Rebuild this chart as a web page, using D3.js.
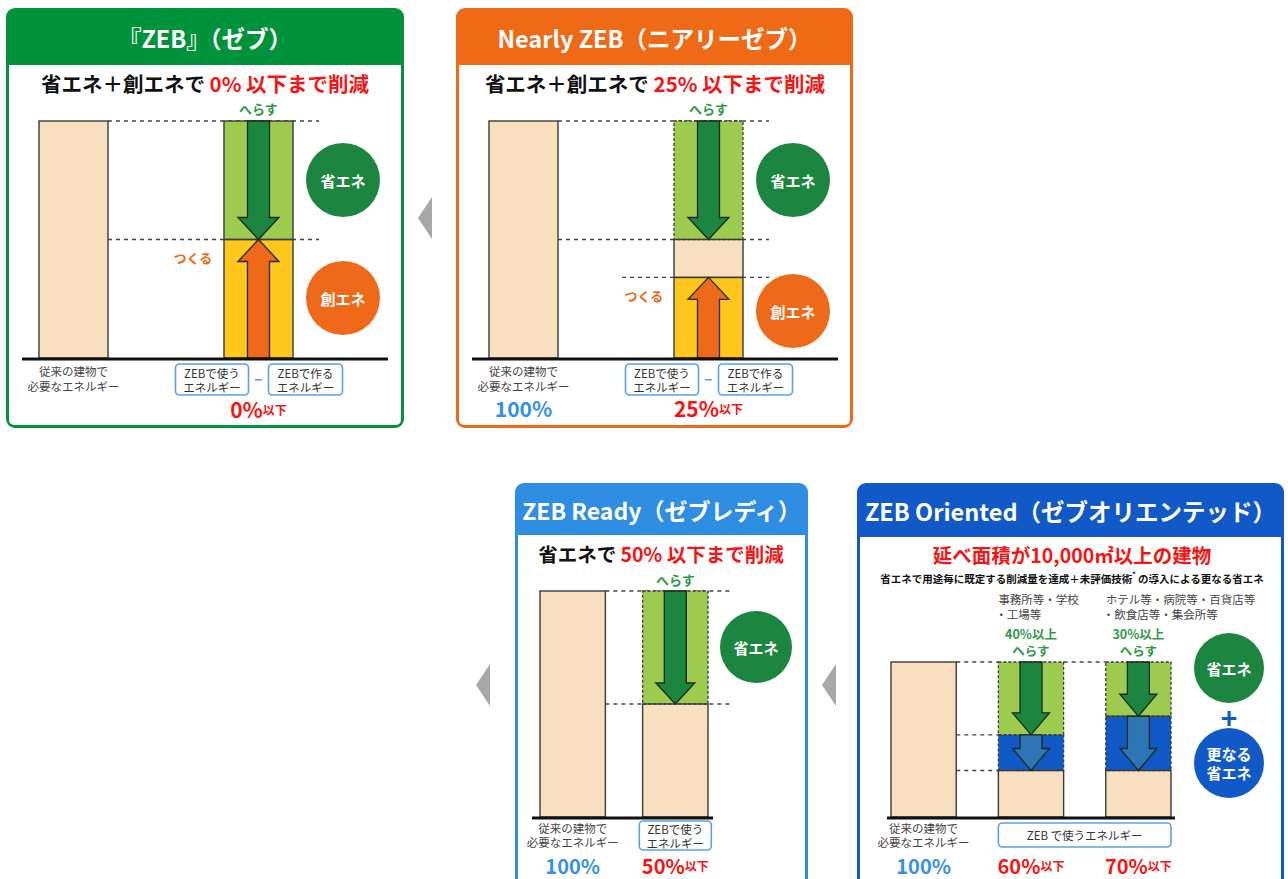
<!DOCTYPE html>
<html><head><meta charset="utf-8">
<script src="https://cdn.jsdelivr.net/npm/d3@7"></script>
<style>body{margin:0;background:#fff;}svg{display:block;font-family:"Noto Sans CJK JP","Noto Sans",sans-serif;}</style>
</head><body><svg id="c" width="1288" height="879"></svg>
<script>
// ---------------- DATA ----------------
const panelTitles = ["『ZEB』（ゼブ）", "Nearly ZEB（ニアリーゼブ）", "ZEB Ready（ゼブレディ）", "ZEB Oriented（ゼブオリエンテッド）"];
const subtitleLead = ["省エネ＋創エネで ", "省エネ＋創エネで ", "省エネで "];
const subtitleTarget = ["0% 以下まで削減", "25% 以下まで削減", "50% 以下まで削減"];
const targetLabels = ["0%", "25%", "50%", "60%", "70%"];
const baselineLabel = "100%";
const barsTwo = ["従来", "ZEB"];
const barsOriented = ["従来", "事務所等", "ホテル等"];
// segments: values in % of conventional building energy
const zebSegments = [
  {bar: "従来", kind: "base", from: 0, to: 100},
  {bar: "ZEB", kind: "save", from: 50, to: 100},
  {bar: "ZEB", kind: "create", from: 0, to: 50}
];
const nearlySegments = [
  {bar: "従来", kind: "base", from: 0, to: 100},
  {bar: "ZEB", kind: "save", from: 50, to: 100},
  {bar: "ZEB", kind: "base", from: 34, to: 50},
  {bar: "ZEB", kind: "create", from: 0, to: 34}
];
const readySegments = [
  {bar: "従来", kind: "base", from: 0, to: 100},
  {bar: "ZEB", kind: "save", from: 50, to: 100},
  {bar: "ZEB", kind: "base", from: 0, to: 50}
];
const orientedSegments = [
  {bar: "従来", kind: "base", from: 0, to: 100},
  {bar: "事務所等", kind: "save", from: 53, to: 100},
  {bar: "事務所等", kind: "further", from: 30, to: 53},
  {bar: "事務所等", kind: "base", from: 0, to: 30},
  {bar: "ホテル等", kind: "save", from: 65, to: 100},
  {bar: "ホテル等", kind: "further", from: 30, to: 65},
  {bar: "ホテル等", kind: "base", from: 0, to: 30}
];
const orientedCategoryLabels = [["事務所等・学校", "・工場等"], ["ホテル等・病院等・百貨店等", "・飲食店等・集会所等"]];
const orientedReduction = ["40%以上", "30%以上"];
const orientedSubtitle = "延べ面積が10,000㎡以上の建物";
const orientedNote = "省エネで用途毎に既定する削減量を達成＋未評価技術";
const orientedNote2 = "の導入による更なる省エネ";

// ---------------- STYLE ----------------
const C = {
  zeb: "#01923C", nearly: "#EE6A17", ready: "#2F8DE2", oriented: "#1159C6",
  wheat: "#F7DFC0", save: "#9CCB50", create: "#FFC61B", further: "#1159C6",
  gArrow: "#1C8540", oArrow: "#EE6A1A", bArrow: "#2E75B6",
  red: "#F51414", blue100: "#3590E6", gText: "#2E9A48", oText: "#EE6A1A",
  box: "#5AA2E6", label: "#444", edge: "#3a3a3a"
};
const svg = d3.select("#c");

function txt(g, x, y, s, size, fill, weight, anchor) {
  return g.append("text").attr("x", x).attr("y", y).attr("font-size", size)
    .attr("fill", fill).attr("font-weight", weight || "normal")
    .attr("text-anchor", anchor || "middle").attr("dominant-baseline", "central").text(s);
}

function panel(x, y, w, h, headH, color, title, tsize) {
  const g = svg.append("g");
  g.append("rect").attr("x", x).attr("y", y).attr("width", w).attr("height", h).attr("rx", 9).attr("fill", color);
  g.append("rect").attr("x", x + 3).attr("y", y + headH).attr("width", w - 6).attr("height", h - headH - 3).attr("rx", 5).attr("fill", "#fff");
  g.append("rect").attr("x", x + 3).attr("y", y + headH).attr("width", w - 6).attr("height", 10).attr("fill", "#fff");
  txt(g, x + w / 2, y + headH / 2 + 1, title, tsize, "#fff", "bold");
  return g;
}

function arrowDown(cx, y0, y1, sw, hw, hl) {
  const hy = y1 - hl;
  return `M${cx - sw / 2},${y0}L${cx + sw / 2},${y0}L${cx + sw / 2},${hy}L${cx + hw / 2},${hy}L${cx},${y1}L${cx - hw / 2},${hy}L${cx - sw / 2},${hy}Z`;
}
function arrowUp(cx, y0, y1, sw, hw, hl) {
  const hy = y1 + hl;
  return `M${cx - sw / 2},${y0}L${cx + sw / 2},${y0}L${cx + sw / 2},${hy}L${cx + hw / 2},${hy}L${cx},${y1}L${cx - hw / 2},${hy}L${cx - sw / 2},${hy}Z`;
}

const kindFill = {base: C.wheat, save: C.save, create: C.create, further: C.further};
const arrowFill = {save: C.gArrow, further: C.bArrow, create: C.oArrow};

function drawBars(g, segs, bars, xr, pad, yr, o) {
  const x = d3.scaleBand().domain(bars).range(xr).paddingInner(pad).paddingOuter(0);
  const y = d3.scaleLinear().domain([0, 100]).range(yr);
  const bw = x.bandwidth();
  (o.guides || []).forEach(gd => {
    g.append("line").attr("x1", gd.x0(x, bw)).attr("x2", gd.x1(x, bw))
      .attr("y1", y(gd.level)).attr("y2", y(gd.level))
      .attr("stroke", "#444").attr("stroke-width", 1.3).attr("stroke-dasharray", "4,4");
  });
  g.selectAll(null).data(segs).join("rect")
    .attr("x", d => x(d.bar)).attr("y", d => y(d.to))
    .attr("width", bw).attr("height", d => y(d.from) - y(d.to))
    .attr("fill", d => kindFill[d.kind]);
  const dashedKinds = o.solidSave ? [] : ["save", "further"];
  g.selectAll(null).data(segs.filter(d => dashedKinds.includes(d.kind))).join("rect")
    .attr("x", d => x(d.bar)).attr("y", d => y(d.to))
    .attr("width", bw).attr("height", d => y(d.from) - y(d.to))
    .attr("fill", "none").attr("stroke", C.edge).attr("stroke-width", 1.3).attr("stroke-dasharray", "3,2");
  g.selectAll(null).data(segs.filter(d => !dashedKinds.includes(d.kind))).join("rect")
    .attr("x", d => x(d.bar)).attr("y", d => y(d.to))
    .attr("width", bw).attr("height", d => y(d.from) - y(d.to))
    .attr("fill", "none").attr("stroke", C.edge).attr("stroke-width", 1.4);
  const A = o.arrow;
  g.selectAll(null).data(segs.filter(d => arrowFill[d.kind])).join("path")
    .attr("d", d => {
      const cx = x(d.bar) + bw / 2;
      return d.kind === "create"
        ? arrowUp(cx, y(d.from), y(d.to), A.sw, A.hw, A.hl)
        : arrowDown(cx, y(d.to), y(d.from), A.sw, A.hw, A.hl);
    })
    .attr("fill", d => arrowFill[d.kind]).attr("stroke", "#1d2a1d").attr("stroke-width", 1.3).attr("stroke-linejoin", "miter");
  g.append("line").attr("x1", o.gx[0]).attr("x2", o.gx[1]).attr("y1", yr[0] + 1).attr("y2", yr[0] + 1)
    .attr("stroke", "#111").attr("stroke-width", 3);
  return {x, y, bw};
}

function circleLabel(g, cx, cy, r, color, lines) {
  g.append("circle").attr("cx", cx).attr("cy", cy).attr("r", r).attr("fill", color);
  lines.forEach((l, i) => txt(g, cx, cy + (i - (lines.length - 1) / 2) * 19, l, 15, "#fff", "bold"));
}
function labelBox(g, x0, y0, w, h, lines, size) {
  g.append("rect").attr("x", x0).attr("y", y0).attr("width", w).attr("height", h).attr("rx", 4)
    .attr("fill", "#fff").attr("stroke", C.box).attr("stroke-width", 1.6);
  lines.forEach((l, i) => txt(g, x0 + w / 2, y0 + h / 2 + (i - (lines.length - 1) / 2) * 14, l, size, "#333"));
}
function pct(g, x, y, val, suffix, color, size) {
  const t = g.append("text").attr("x", x).attr("y", y).attr("text-anchor", "middle").attr("dominant-baseline", "central")
    .attr("font-weight", "bold").attr("fill", color);
  t.append("tspan").attr("font-size", size || 21).text(val);
  if (suffix) t.append("tspan").attr("font-size", 12).text(suffix);
}
function subtitle(g, x, y, lead, target, size) {
  const t = g.append("text").attr("x", x).attr("y", y).attr("text-anchor", "middle").attr("dominant-baseline", "central")
    .attr("font-weight", "bold").attr("font-size", size);
  t.append("tspan").attr("fill", "#111").text(lead);
  t.append("tspan").attr("fill", C.red).text(target);
}
function convLabel(g, cx, y, gap) {
  txt(g, cx, y, "従来の建物で", 11.5, C.label);
  txt(g, cx, y + (gap || 14.5), "必要なエネルギー", 11.5, C.label);
}
function chevron(x, yc) {
  svg.append("path").attr("d", `M${x},${yc}L${x + 14},${yc - 21}L${x + 14},${yc + 21}Z`).attr("fill", "#A8A8A8");
}

// ---------------- PANEL 1 : ZEB ----------------
{
  const g = panel(6, 8, 398, 420, 57, C.zeb, panelTitles[0], 23.5);
  subtitle(g, 205, 83, subtitleLead[0], subtitleTarget[0], 20.5);
  const s = drawBars(g, zebSegments, barsTwo, [39, 293], 0.627, [358, 121], {
    solidSave: true, gx: [22, 388],
    arrow: {sw: 22, hw: 41, hl: 22},
    guides: [
      {level: 100, x0: (x, bw) => x("従来") + bw, x1: (x, bw) => x("ZEB") + bw + 26},
      {level: 50, x0: (x, bw) => x("従来") + bw, x1: (x, bw) => x("ZEB") + bw + 26}
    ]
  });
  const cx = s.x("ZEB") + s.bw / 2;
  txt(g, cx, s.y(100) - 13, "へらす", 13, C.gText, "bold");
  txt(g, s.x("ZEB") - 31, s.y(50) + 18, "つくる", 13, C.oText, "bold");
  circleLabel(g, s.x("ZEB") + s.bw + 50, 180, 37, C.gArrow, ["省エネ"]);
  circleLabel(g, s.x("ZEB") + s.bw + 50, 298, 37, C.oArrow, ["創エネ"]);
  convLabel(g, s.x("従来") + s.bw / 2, 371);
  labelBox(g, cx - 83, 364, 73, 31, ["ZEBで使う", "エネルギー"], 11.5);
  txt(g, cx, 379, "−", 14, C.box, "bold");
  labelBox(g, cx + 10, 364, 74, 31, ["ZEBで作る", "エネルギー"], 11.5);
  pct(g, cx, 409, targetLabels[0], "以下", C.red);
}
chevron(418, 218);

// ---------------- PANEL 2 : Nearly ZEB ----------------
{
  const g = panel(456, 8, 397, 420, 57, C.nearly, panelTitles[1], 23.5);
  subtitle(g, 655, 83, subtitleLead[1], subtitleTarget[1], 20.5);
  const s = drawBars(g, nearlySegments, barsTwo, [489, 743], 0.627, [358, 121], {
    gx: [472, 838],
    arrow: {sw: 22, hw: 41, hl: 22},
    guides: [
      {level: 100, x0: (x, bw) => x("従来") + bw, x1: (x, bw) => x("ZEB") + bw + 26},
      {level: 50, x0: (x, bw) => x("従来") + bw, x1: (x, bw) => x("ZEB") + bw + 26},
      {level: 34, x0: (x, bw) => x("ZEB") - 52, x1: (x, bw) => x("ZEB") + bw + 26}
    ]
  });
  const cx = s.x("ZEB") + s.bw / 2;
  txt(g, cx, s.y(100) - 13, "へらす", 13, C.gText, "bold");
  txt(g, s.x("ZEB") - 30, s.y(34) + 18, "つくる", 13, C.oText, "bold");
  circleLabel(g, s.x("ZEB") + s.bw + 50, 180, 37, C.gArrow, ["省エネ"]);
  circleLabel(g, s.x("ZEB") + s.bw + 50, 311, 37, C.oArrow, ["創エネ"]);
  convLabel(g, s.x("従来") + s.bw / 2, 371);
  labelBox(g, cx - 83, 364, 73, 31, ["ZEBで使う", "エネルギー"], 11.5);
  txt(g, cx, 379, "−", 14, C.box, "bold");
  labelBox(g, cx + 10, 364, 74, 31, ["ZEBで作る", "エネルギー"], 11.5);
  pct(g, s.x("従来") + s.bw / 2, 408, baselineLabel, "", C.blue100);
  pct(g, cx, 408, targetLabels[1], "以下", C.red);
}

// ---------------- PANEL 3 : ZEB Ready ----------------
chevron(476, 685);
{
  const g = panel(515, 483, 293, 410, 52, C.ready, panelTitles[2], 23);
  subtitle(g, 661, 553, subtitleLead[2], subtitleTarget[2], 19.5);
  const s = drawBars(g, readySegments, barsTwo, [540, 708], 0.363, [817, 591], {
    gx: [532, 713],
    arrow: {sw: 22, hw: 39, hl: 21},
    guides: [
      {level: 100, x0: (x, bw) => x("従来") + bw, x1: (x, bw) => x("ZEB") + bw + 24},
      {level: 50, x0: (x, bw) => x("従来") + bw, x1: (x, bw) => x("ZEB") + bw + 24}
    ]
  });
  const cx = s.x("ZEB") + s.bw / 2;
  txt(g, cx, s.y(100) - 12, "へらす", 13, C.gText, "bold");
  circleLabel(g, 756, 647, 36, C.gArrow, ["省エネ"]);
  convLabel(g, s.x("従来") + s.bw / 2, 828, 13.5);
  labelBox(g, cx - 36, 821, 72, 29, ["ZEBで使う", "エネルギー"], 11.5);
  pct(g, s.x("従来") + s.bw / 2, 865, baselineLabel, "", C.blue100, 20);
  pct(g, cx, 865, targetLabels[2], "以下", C.red, 20);
}

// ---------------- PANEL 4 : ZEB Oriented ----------------
chevron(822, 685);
{
  const g = panel(857, 483, 427, 410, 54, C.oriented, panelTitles[3], 23.5);
  txt(g, 1072, 554, orientedSubtitle, 19.5, C.red, "bold");
  const n = g.append("text").attr("x", 1072).attr("y", 578).attr("text-anchor", "middle").attr("dominant-baseline", "central")
    .attr("font-size", 10.5).attr("font-weight", "bold").attr("fill", "#111");
  n.append("tspan").text(orientedNote);
  n.append("tspan").attr("font-size", 7).attr("dy", -4).text("*");
  n.append("tspan").attr("dy", 4).text(" " + orientedNote2);
  const s = drawBars(g, orientedSegments, barsOriented, [891, 1171], 0.3925, [817, 662], {
    gx: [887, 1175],
    arrow: {sw: 22, hw: 37, hl: 22},
    guides: [
      {level: 100, x0: (x, bw) => x("従来") + bw, x1: (x, bw) => x("事務所等")},
      {level: 100, x0: (x, bw) => x("事務所等") + bw, x1: (x, bw) => x("ホテル等")},
      {level: 53, x0: (x, bw) => x("従来") + bw, x1: (x, bw) => x("事務所等")},
      {level: 30, x0: (x, bw) => x("従来") + bw, x1: (x, bw) => x("事務所等")}
    ]
  });
  ["事務所等", "ホテル等"].forEach((b, i) => {
    const lx = s.x(b);
    txt(g, lx, 599, orientedCategoryLabels[i][0], 11.5, C.label, "normal", "start");
    txt(g, lx - 3, 614, orientedCategoryLabels[i][1], 11.5, C.label, "normal", "start");
    txt(g, lx + s.bw / 2, 633, orientedReduction[i], 12.5, C.gText, "bold");
    txt(g, lx + s.bw / 2, 650, "へらす", 12.5, C.gText, "bold");
  });
  circleLabel(g, 1229, 668, 35, C.gArrow, ["省エネ"]);
  txt(g, 1229, 717, "+", 28, C.oriented, "bold");
  circleLabel(g, 1229, 763, 35, C.oriented, ["更なる", "省エネ"]);
  convLabel(g, s.x("従来") + s.bw / 2, 828, 13.5);
  labelBox(g, s.x("事務所等"), 823, s.x("ホテル等") + s.bw - s.x("事務所等"), 24, ["ZEB で使うエネルギー"], 11.5);
  pct(g, s.x("従来") + s.bw / 2, 865, baselineLabel, "", C.blue100, 20);
  pct(g, s.x("事務所等") + s.bw / 2, 865, targetLabels[3], "以下", C.red, 20);
  pct(g, s.x("ホテル等") + s.bw / 2, 865, targetLabels[4], "以下", C.red, 20);
}
</script></body></html>
